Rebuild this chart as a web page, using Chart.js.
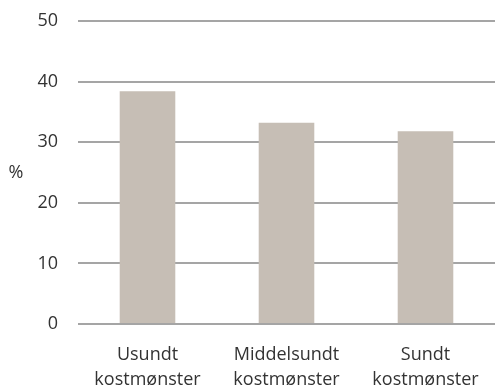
<!DOCTYPE html>
<html>
<head>
<meta charset="utf-8">
<script src="https://cdn.jsdelivr.net/npm/chart.js@4"></script>
<style>
  html, body { margin: 0; padding: 0; background: #fff; }
  #wrap { width: 495px; height: 385px; }
</style>
</head>
<body>
<div id="wrap"><canvas id="myChart" width="495" height="385"></canvas></div>
<script>
// Data
const categories = [['Usundt', 'kostmønster'], ['Middelsundt', 'kostmønster'], ['Sundt', 'kostmønster']];
const values = [38.4, 33.2, 31.8];
const yTicks = [0, 10, 20, 30, 40, 50];
const yLabel = '%';

const fontFamily = "'Open Sans', 'Noto Sans', sans-serif";
const textColor = '#333333';

// Draw the unrotated "%" to the left of the axis
const percentLabel = {
  id: 'percentLabel',
  afterDraw(chart) {
    const ctx = chart.ctx;
    const area = chart.chartArea;
    ctx.save();
    ctx.font = '18px ' + fontFamily;
    ctx.fillStyle = textColor;
    ctx.textAlign = 'center';
    ctx.textBaseline = 'middle';
    ctx.fillText(yLabel, 16, (area.top + area.bottom) / 2);
    ctx.restore();
  },
};

const ctx = document.getElementById('myChart').getContext('2d');
const chart = new Chart(ctx, {
  type: 'bar',
  data: {
    labels: categories,
    datasets: [
      {
        data: values,
        backgroundColor: '#c6beb5',
        borderWidth: 0,
        categoryPercentage: 1,
        barPercentage: 0.4,
      },
    ],
  },
  options: {
    responsive: false,
    animation: false,
    devicePixelRatio: 1,
    layout: { padding: { left: 8, right: 0, top: 21, bottom: 0 } },
    plugins: {
      legend: { display: false },
      tooltip: { enabled: false },
    },
    scales: {
      x: {
        grid: { display: false },
        border: { display: false },
        ticks: {
          color: textColor,
          font: { family: fontFamily, size: 18, lineHeight: 1.4 },
          padding: 10,
          maxRotation: 0,
        },
        afterFit(scale) {
          scale.height = 61;
        },
      },
      y: {
        min: 0,
        max: 50,
        afterBuildTicks(scale) {
          scale.ticks = yTicks.map((v) => ({ value: v }));
        },
        grid: { color: '#a5a5a5', lineWidth: 2, drawTicks: true, tickLength: 14, tickColor: 'rgba(0,0,0,0)' },
        border: { display: false },
        ticks: {
          color: textColor,
          font: { family: fontFamily, size: 18 },
          padding: 6,
        },
        afterFit(scale) {
          scale.width = 70;
        },
      },
    },
  },
  plugins: [percentLabel],
});
</script>
</body>
</html>
